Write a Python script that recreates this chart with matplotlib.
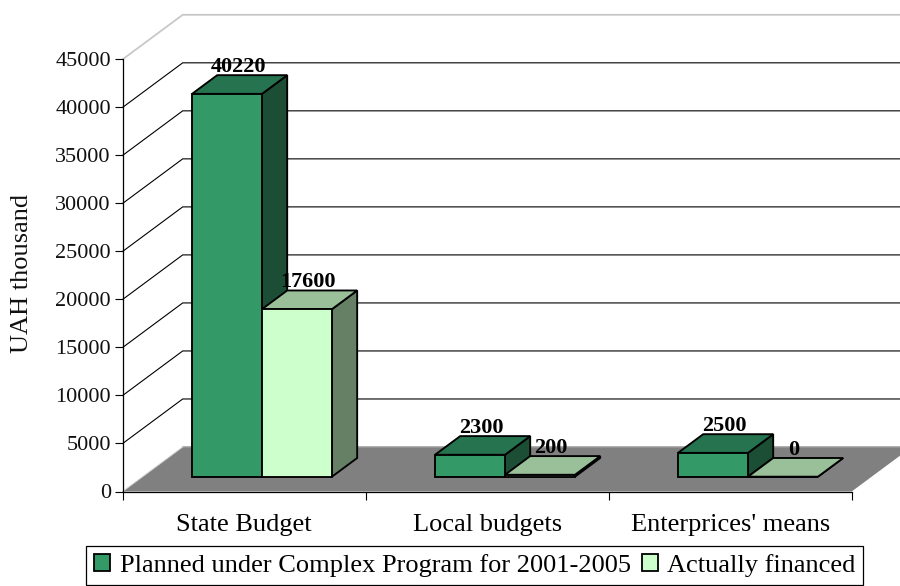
import matplotlib
matplotlib.use("Agg")
import matplotlib.pyplot as plt
from matplotlib.patches import Polygon, Patch

plt.rcParams['font.family'] = ['Liberation Serif', 'DejaVu Serif']

categories = ["State Budget", "Local budgets", "Enterprices' means"]
planned = [40220, 2300, 2500]
financed = [17600, 200, 0]
series_names = ["Planned under Complex Program for 2001-2005", "Actually financed"]
yticks = [0, 5000, 10000, 15000, 20000, 25000, 30000, 35000, 40000, 45000]

W, H = 900, 586
L, R, B, T = 122.7, 851.7, 491.5, 59.3
DX = 60 / 243          # depth of the box in category units
DY = 44.5 / 432.2 * 45000  # depth of the box in value units
T0, T1 = 0.333, 0.753  # bar depth range
BAR_W = 0.288
BAR_LEFT = 0.203
HEIGHT_K = 0.991
FS_NUM = 16.0
FS_TXT = 19.0

fig = plt.figure(figsize=(W / 100, H / 100), dpi=100, facecolor='white')
ax = fig.add_axes([L / W, 1 - B / H, (R - L) / W, (B - T) / H])
ax.set_xlim(0, 3)
ax.set_ylim(0, 45000)
ax.patch.set_visible(False)

def P(x, v, t=0.0):
    return (x + t * DX, v + t * DY)

# floor
ax.add_patch(Polygon([P(0, 0), P(0, 0, 1), P(3, 0, 1), P(3, 0)], closed=True,
                     facecolor='#808080', edgecolor='none', zorder=1, clip_on=False))
ax.plot(*zip(P(0, 0, 1), P(3, 0, 1)), color='#999999', lw=1.1, zorder=1.1, clip_on=False)
ax.plot(*zip(P(0, 0), P(0, 0, 1)), color='#d0d0d0', lw=0.7, zorder=1.1, clip_on=False)

# walls
for v in yticks[1:]:
    col = '#c8c8c8' if v == yticks[-1] else 'black'
    lw = 1.3 if v == yticks[-1] else 0.8
    pts = [P(0, v), P(0, v, 1), P(3, v, 1)]
    ax.plot(*zip(*pts), color=col, lw=lw, zorder=1, clip_on=False, solid_joinstyle='miter')

def bar(x, v, front, top, side):
    h = v * HEIGHT_K
    a, b = x, x + BAR_W
    base = 0
    kw = dict(closed=True, edgecolor='black', linewidth=1.35, joinstyle='miter',
              clip_on=False, zorder=3)
    dxy = T1 - T0
    # front plane located at depth T0
    def Q(xx, vv, t):
        return P(xx, vv, T0 + t)
    ax.add_patch(Polygon([Q(b, base, 0), Q(b, base, dxy), Q(b, h, dxy), Q(b, h, 0)],
                         facecolor=side, **kw))
    ax.add_patch(Polygon([Q(a, h, 0), Q(b, h, 0), Q(b, h, dxy), Q(a, h, dxy)],
                         facecolor=top, **kw))
    ax.add_patch(Polygon([Q(a, base, 0), Q(b, base, 0), Q(b, h, 0), Q(a, h, 0)],
                         facecolor=front, **kw))
    lx, ly = Q(a + BAR_W / 2, h, dxy)
    ax.annotate(str(v), xy=(lx, ly), xytext=(-14, 3), textcoords='offset pixels',
                ha='center', va='baseline', fontsize=FS_NUM, fontweight='bold',
                color='black', zorder=5, annotation_clip=False)

C1 = ('#339966', '#267350', '#1C4E36')
C2 = ('#CCFFCC', '#99C099', '#668066')
for i in range(len(categories)):
    bar(i + BAR_LEFT, planned[i], *C1)
    bar(i + BAR_LEFT + BAR_W, financed[i], *C2)

for s in ('top', 'right'):
    ax.spines[s].set_visible(False)
for s in ('left', 'bottom'):
    ax.spines[s].set_linewidth(0.9)
    ax.spines[s].set_zorder(2)

ax.set_yticks(yticks)
ax.set_yticklabels([str(v) for v in yticks], fontsize=FS_NUM, color='#111111')
ax.tick_params(axis='y', length=5.5, width=0.8, pad=3)
ax.set_xticks(range(len(categories) + 1))
ax.set_xticklabels([])
ax.tick_params(axis='x', which='major', length=5.5, width=0.8)
ax.set_xticks([i + 0.5 for i in range(len(categories))], minor=True)
ax.set_xticklabels(categories, minor=True, fontsize=FS_TXT)
ax.tick_params(axis='x', which='minor', length=0, pad=16.5)

fig.text(22 / W, 1 - 273 / H, "UAH thousand", rotation=90, ha='center', va='center',
         fontsize=FS_TXT, color='#111111')

handles = [Patch(facecolor=C1[0], edgecolor='black', linewidth=1.3),
           Patch(facecolor=C2[0], edgecolor='black', linewidth=1.3)]
leg = fig.legend(handles, series_names, ncol=2, fontsize=FS_TXT, loc='lower left',
                 bbox_to_anchor=(86 / W, 1 - 584.5 / H), bbox_transform=fig.transFigure,
                 frameon=True, fancybox=False, edgecolor='black', framealpha=1,
                 borderpad=0.3, borderaxespad=0, handlelength=0.62, handleheight=0.62,
                 handletextpad=0.35, columnspacing=0.42)
leg.get_frame().set_linewidth(0.9)

fig.savefig('out.png', dpi=100)
